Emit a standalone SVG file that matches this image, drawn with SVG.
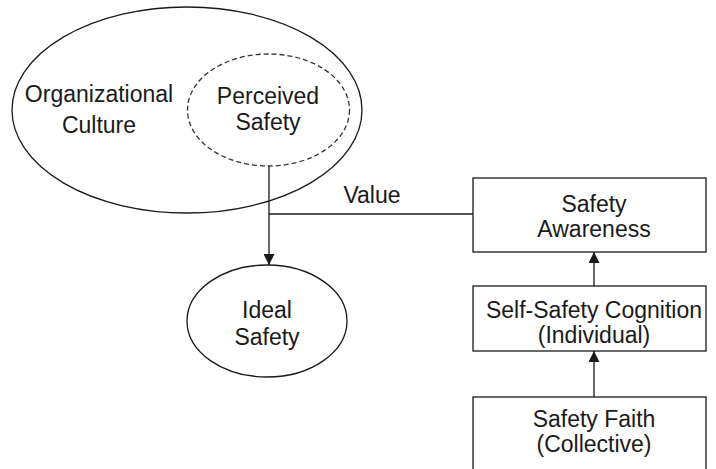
<svg xmlns="http://www.w3.org/2000/svg" width="716" height="469" viewBox="0 0 716 469">
  <style>
    .shape { fill: #ffffff; stroke: #1a1a1a; stroke-width: 1.3; }
    .dashed { fill: none; stroke: #333333; stroke-width: 1.3; stroke-dasharray: 5 3; }
    .link { fill: none; stroke: #1a1a1a; stroke-width: 1.3; }
    text { font-family: "Liberation Sans", Arial, sans-serif; font-size: 23px; fill: #1a1a1a; text-anchor: middle; }
  </style>
  <defs>
    <marker id="arrow" viewBox="0 0 10 10" refX="10" refY="5" markerWidth="11" markerHeight="11" markerUnits="userSpaceOnUse" orient="auto">
      <path d="M0,0 L10,5 L0,10 Z" fill="#1a1a1a"/>
    </marker>
  </defs>

  <rect x="0" y="0" width="716" height="469" fill="#ffffff"/>

  <g id="organizational-culture">
    <ellipse class="shape" cx="187" cy="110" rx="175" ry="103"/>
    <text x="99" y="102">Organizational</text>
    <text x="99" y="133">Culture</text>
  </g>

  <g id="perceived-safety">
    <ellipse class="dashed" cx="268.5" cy="110" rx="81" ry="56"/>
    <text x="268" y="104">Perceived</text>
    <text x="268" y="130">Safety</text>
  </g>

  <g id="ideal-safety">
    <ellipse class="shape" cx="267" cy="321" rx="80" ry="56"/>
    <text x="267" y="318">Ideal</text>
    <text x="267" y="345">Safety</text>
  </g>

  <g id="safety-awareness">
    <rect class="shape" x="473" y="178" width="233" height="74"/>
    <text x="594" y="212">Safety</text>
    <text x="594" y="237">Awareness</text>
  </g>

  <g id="self-safety-cognition">
    <rect class="shape" x="473" y="286" width="233" height="65"/>
    <text x="594" y="318">Self-Safety Cognition</text>
    <text x="594" y="343">(Individual)</text>
  </g>

  <g id="safety-faith">
    <rect class="shape" x="473" y="397" width="233" height="80"/>
    <text x="594" y="427">Safety Faith</text>
    <text x="594" y="452">(Collective)</text>
  </g>

  <g id="connectors">
    <line class="link" x1="269" y1="166" x2="269" y2="265" marker-end="url(#arrow)"/>
    <line class="link" x1="269" y1="214" x2="473" y2="214"/>
    <text x="372" y="203">Value</text>
    <line class="link" x1="594" y1="286" x2="594" y2="252" marker-end="url(#arrow)"/>
    <line class="link" x1="594" y1="397" x2="594" y2="351" marker-end="url(#arrow)"/>
  </g>
</svg>
